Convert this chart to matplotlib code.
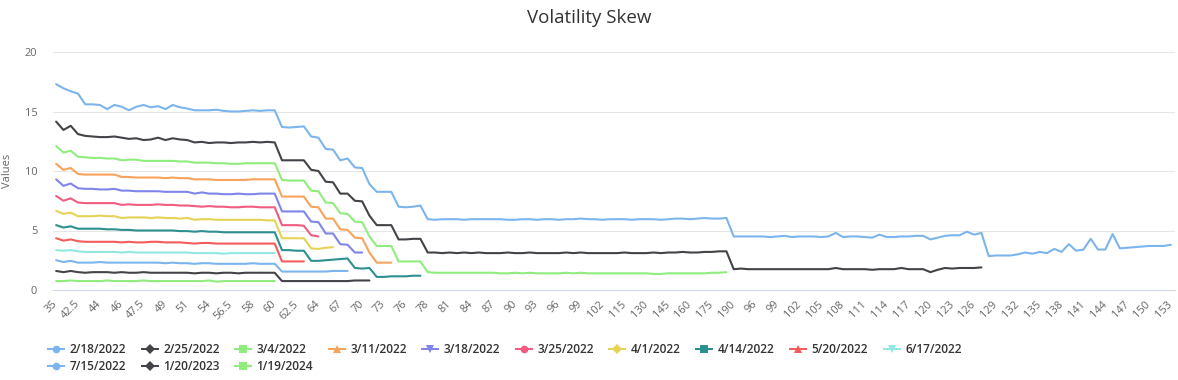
import matplotlib
matplotlib.use("Agg")
import matplotlib.pyplot as plt
from matplotlib.lines import Line2D

plt.rcParams['font.family'] = ['Open Sans', 'DejaVu Sans']

categories = ['35', '40', '41', '42.5', '43', '43.5', '44', '45', '45.5', '46', '46.5', '47', '47.5', '48', '48.5',
              '49', '50', '50.5', '51', '52', '52.5', '54', '55', '55.5', '56.5', '57', '57.5', '58', '59', '59.5',
              '60', '61', '62', '62.5', '63', '63.5', '64', '65', '66', '67', '68', '69', '70', '71', '72', '73',
              '74', '75', '76', '77', '77.5', '78', '79', '80', '81', '82', '83', '84', '85', '86', '87', '88', '89',
              '90', '91', '92', '93', '94', '95', '96', '97', '98', '99', '100', '101', '102', '105', '110', '115',
              '120', '125', '130', '135', '140', '145', '150', '155', '160', '165', '170', '175', '180', '185', '190',
              '94', '95', '96', '97', '98', '99', '100', '101', '102', '103', '104', '105', '106', '107', '108', '109',
              '110', '111', '112', '113', '114', '115', '116', '117', '118', '119', '120', '121', '122', '123', '124',
              '125', '126', '127', '128', '129', '130', '131', '132', '133', '134', '135', '136', '137', '138', '139',
              '140', '141', '142', '143', '144', '145', '146', '147', '148', '149', '150', '151', '152', '153']

series_names = ['2/18/2022', '2/25/2022', '3/4/2022', '3/11/2022', '3/18/2022', '3/25/2022', '4/1/2022',
                '4/14/2022', '5/20/2022', '6/17/2022', '7/15/2022', '1/20/2023', '1/19/2024']

s_2022_02_18 = [17.3, 16.95, 16.7, 16.5, 15.6, 15.6, 15.55, 15.2, 15.55, 15.4, 15.1, 15.4, 15.55, 15.35, 15.45,
                15.2, 15.55, 15.35, 15.25, 15.1, 15.1, 15.1, 15.15, 15.05, 15.0, 15.0, 15.05, 15.1, 15.05, 15.1, 15.1,
                13.7, 13.65, 13.7, 13.75, 12.9, 12.8, 11.85, 11.8, 10.9, 11.05, 10.3, 10.25, 8.9, 8.25, 8.25, 8.25,
                7.0, 6.95, 7.0, 7.1,
                5.95, 5.9, 5.95, 5.95, 5.95, 5.9, 5.95, 5.95, 5.95, 5.95, 5.95, 5.9, 5.9, 5.95, 5.95, 5.9, 5.95, 5.95,
                5.9, 5.95, 5.95, 6.0, 5.95, 5.95, 5.9, 5.95, 5.95, 5.95, 5.9, 5.95, 5.95, 5.95, 5.9, 5.95, 6.0, 6.0,
                5.95, 6.0, 6.05, 6.0, 6.0, 6.05,
                4.5, 4.5, 4.5, 4.5, 4.5, 4.45, 4.5, 4.55, 4.45, 4.5, 4.5, 4.5, 4.45, 4.5, 4.8, 4.45, 4.5, 4.5, 4.45,
                4.4, 4.65, 4.45, 4.45, 4.5, 4.5, 4.55, 4.55, 4.25, 4.4, 4.55, 4.6, 4.6, 4.9, 4.65, 4.8,
                2.85, 2.9, 2.9, 2.9, 3.0, 3.15, 3.05, 3.2, 3.1, 3.45, 3.2, 3.85, 3.3, 3.4, 4.3, 3.4, 3.4, 4.7, 3.5,
                3.55, 3.6, 3.65, 3.7, 3.7, 3.7, 3.8]

s_2022_02_25 = [14.15, 13.45, 13.8, 13.1, 12.95, 12.9, 12.85, 12.85, 12.9, 12.8, 12.7, 12.75, 12.6, 12.65, 12.8,
                12.6, 12.75, 12.65, 12.6, 12.4, 12.45, 12.35, 12.4, 12.4, 12.35, 12.4, 12.4, 12.45, 12.4, 12.45, 12.4,
                10.9, 10.9, 10.9, 10.9, 10.1, 10.0, 9.1, 9.05, 8.1, 8.1, 7.5, 7.45, 6.25, 5.45, 5.45, 5.45, 4.25,
                4.25, 4.3, 4.3,
                3.15, 3.15, 3.1, 3.15, 3.1, 3.15, 3.1, 3.15, 3.1, 3.1, 3.1, 3.15, 3.1, 3.1, 3.15, 3.1, 3.1, 3.1, 3.1,
                3.15, 3.1, 3.15, 3.1, 3.1, 3.1, 3.1, 3.1, 3.15, 3.1, 3.1, 3.1, 3.15, 3.1, 3.15, 3.15, 3.2, 3.15, 3.15,
                3.2, 3.2, 3.25, 3.25,
                1.75, 1.8, 1.75, 1.75, 1.75, 1.75, 1.75, 1.75, 1.75, 1.75, 1.75, 1.75, 1.75, 1.75, 1.85, 1.75, 1.75,
                1.75, 1.75, 1.7, 1.75, 1.75, 1.75, 1.85, 1.75, 1.75, 1.75, 1.5, 1.7, 1.85, 1.8, 1.85, 1.85, 1.85, 1.9]

s_2022_03_04 = [12.1, 11.55, 11.7, 11.2, 11.15, 11.1, 11.1, 11.05, 11.05, 10.9, 10.95, 10.95, 10.85, 10.85, 10.85,
                10.85, 10.85, 10.8, 10.8, 10.7, 10.7, 10.7, 10.65, 10.65, 10.6, 10.6, 10.65, 10.65, 10.65, 10.65,
                10.65,
                9.25, 9.2, 9.2, 9.2, 8.35, 8.3, 7.35, 7.3, 6.45, 6.4, 5.75, 5.7, 4.5, 3.7, 3.7, 3.7, 2.4, 2.4, 2.4, 2.4,
                1.5, 1.45, 1.45, 1.45, 1.45, 1.45, 1.45, 1.45, 1.45, 1.45, 1.4, 1.4, 1.45, 1.4, 1.45, 1.4, 1.4, 1.4,
                1.4, 1.45, 1.4, 1.45, 1.4, 1.4, 1.4, 1.4, 1.4, 1.4, 1.4, 1.4, 1.4, 1.35, 1.35, 1.4, 1.4, 1.4, 1.4,
                1.4, 1.4, 1.45, 1.45, 1.5]

s_2022_03_11 = [10.6, 10.1, 10.25, 9.75, 9.7, 9.7, 9.7, 9.7, 9.7, 9.5, 9.5, 9.45, 9.45, 9.45, 9.45, 9.4, 9.45, 9.4,
                9.4, 9.3, 9.3, 9.3, 9.25, 9.25, 9.25, 9.25, 9.25, 9.3, 9.3, 9.3, 9.3,
                7.85, 7.85, 7.85, 7.85, 7.0, 6.95, 6.0, 6.0, 5.1, 5.05, 4.4, 4.35, 3.15, 2.3, 2.3, 2.3]

s_2022_03_18 = [9.3, 8.75, 8.95, 8.55, 8.5, 8.5, 8.45, 8.45, 8.5, 8.35, 8.35, 8.3, 8.3, 8.3, 8.3, 8.25, 8.25, 8.25,
                8.25, 8.1, 8.2, 8.1, 8.1, 8.05, 8.05, 8.1, 8.05, 8.05, 8.1, 8.1, 8.1,
                6.6, 6.6, 6.6, 6.6, 5.75, 5.7, 4.75, 4.75, 3.85, 3.8, 3.15, 3.15]

s_2022_03_25 = [7.9, 7.5, 7.7, 7.35, 7.3, 7.3, 7.3, 7.3, 7.3, 7.15, 7.2, 7.15, 7.15, 7.15, 7.2, 7.15, 7.15, 7.1, 7.1,
                7.05, 7.0, 7.05, 7.0, 7.0, 6.95, 6.95, 7.0, 7.0, 6.95, 6.95, 6.95,
                5.45, 5.45, 5.45, 5.4, 4.6, 4.5]

s_2022_04_01 = [6.65, 6.4, 6.5, 6.2, 6.2, 6.2, 6.25, 6.2, 6.2, 6.05, 6.1, 6.1, 6.1, 6.05, 6.1, 6.05, 6.05, 6.0, 6.05,
                5.9, 5.95, 5.95, 5.9, 5.9, 5.9, 5.9, 5.9, 5.9, 5.9, 5.85, 5.85,
                4.35, 4.35, 4.35, 4.35, 3.5, 3.45, 3.55, 3.6]

s_2022_04_14 = [5.45, 5.25, 5.35, 5.15, 5.15, 5.15, 5.15, 5.1, 5.1, 5.05, 5.05, 5.0, 5.0, 5.0, 5.0, 5.0, 5.0, 4.95,
                4.95, 4.9, 4.95, 4.9, 4.9, 4.85, 4.85, 4.85, 4.85, 4.85, 4.85, 4.85, 4.85,
                3.35, 3.35, 3.3, 3.3, 2.45, 2.45, 2.5, 2.55, 2.6, 2.65, 1.85, 1.8, 1.85, 1.1, 1.1, 1.15, 1.15, 1.15,
                1.2, 1.2]

s_2022_05_20 = [4.35, 4.15, 4.25, 4.1, 4.05, 4.05, 4.05, 4.05, 4.05, 4.0, 4.05, 4.0, 4.0, 4.05, 4.05, 4.0, 4.0, 4.0,
                3.95, 3.9, 3.95, 3.95, 3.9, 3.9, 3.9, 3.9, 3.9, 3.9, 3.9, 3.9, 3.9,
                2.4, 2.4, 2.4, 2.4]

s_2022_06_17 = [3.35, 3.3, 3.35, 3.25, 3.2, 3.2, 3.2, 3.2, 3.2, 3.15, 3.2, 3.15, 3.15, 3.15, 3.15, 3.15, 3.15, 3.15,
                3.15, 3.1, 3.1, 3.1, 3.1, 3.05, 3.1, 3.1, 3.1, 3.1, 3.1, 3.1, 3.1]

s_2022_07_15 = [2.5, 2.35, 2.45, 2.3, 2.3, 2.3, 2.35, 2.3, 2.3, 2.3, 2.3, 2.3, 2.3, 2.3, 2.3, 2.25, 2.3, 2.25, 2.25,
                2.2, 2.25, 2.25, 2.2, 2.2, 2.2, 2.2, 2.2, 2.25, 2.2, 2.2, 2.2,
                1.55, 1.55, 1.55, 1.55, 1.55, 1.55, 1.55, 1.6, 1.6, 1.6]

s_2023_01_20 = [1.6, 1.5, 1.6, 1.5, 1.45, 1.5, 1.5, 1.5, 1.45, 1.5, 1.45, 1.45, 1.5, 1.45, 1.45, 1.45, 1.45, 1.45,
                1.45, 1.4, 1.45, 1.45, 1.4, 1.45, 1.45, 1.4, 1.45, 1.45, 1.45, 1.45, 1.45,
                0.75, 0.75, 0.75, 0.75, 0.75, 0.75, 0.75, 0.75, 0.75, 0.75, 0.8, 0.8, 0.8]

s_2024_01_19 = [0.75, 0.75, 0.8, 0.75, 0.75, 0.75, 0.75, 0.8, 0.75, 0.75, 0.75, 0.75, 0.8, 0.75, 0.75, 0.75, 0.75,
                0.75, 0.75, 0.75, 0.75, 0.8, 0.7, 0.75, 0.75, 0.75, 0.75, 0.75, 0.75, 0.75, 0.75]

series_values = [s_2022_02_18, s_2022_02_25, s_2022_03_04, s_2022_03_11, s_2022_03_18, s_2022_03_25,
                 s_2022_04_01, s_2022_04_14, s_2022_05_20, s_2022_06_17, s_2022_07_15, s_2023_01_20, s_2024_01_19]

colors = ['#7cb5ec', '#434348', '#90ed7d', '#f7a35c', '#8085e9', '#f15c80', '#e4d354', '#2b908f', '#f45b5b',
          '#91e8e1', '#7cb5ec', '#434348', '#90ed7d']
markers = ['o', 'D', 's', '^', 'v', 'o', 'D', 's', '^', 'v', 'o', 'D', 's']

W, H = 1178, 380
fig = plt.figure(figsize=(W / 100, H / 100), dpi=100)
ax = fig.add_axes([52.5 / W, (H - 290) / H, (1174.5 - 52.5) / W, (290 - 52) / H])

for name, vals, c in zip(series_names, series_values, colors):
    ax.plot(range(len(vals)), vals, color=c, lw=1.5, solid_joinstyle='round', solid_capstyle='round')

ax.set_xlim(-0.5, len(categories) - 0.5)
ax.set_ylim(0, 20)
ax.set_yticks([0, 5, 10, 15, 20])
ax.yaxis.grid(True, color='#e6e6e6', lw=0.75)
ax.set_axisbelow(True)
for s in ['top', 'right', 'left']:
    ax.spines[s].set_visible(False)
ax.spines['bottom'].set_color('#ccd6eb')
ax.spines['bottom'].set_linewidth(0.75)
ax.tick_params(axis='y', length=0, pad=11, labelsize=7.9, labelcolor='#666666')

tick_pos = list(range(0, len(categories), 3))
ax.set_xticks(tick_pos)
ax.set_xticklabels([categories[i] for i in tick_pos], rotation=45, ha='right', va='center',
                   rotation_mode='anchor', fontsize=7.9, color='#666666')
ax.tick_params(axis='x', length=0, pad=9)

fig.text(0.5, 1 - 18 / H, 'Volatility Skew', ha='center', va='center', fontsize=13.5, color='#333333')
fig.text(8 / W, 1 - 171 / H, 'Values', ha='center', va='center', rotation=90, fontsize=8, color='#666666')

handles = [Line2D([0], [0], color=c, lw=1.45, marker=m, markersize=5.5, markeredgewidth=0)
           for c, m in zip(colors, markers)]
# legend is filled column by column; order items so that rows read left to right
order = [0, 10, 1, 11, 2, 12, 3, 4, 5, 6, 7, 8, 9]
leg = fig.legend([handles[i] for i in order], [series_names[i] for i in order], ncol=10, loc='upper left',
                 bbox_to_anchor=(48 / W, 1 - 343 / H),
                 frameon=False, fontsize=8.6, handlelength=1.35, handletextpad=0.45, columnspacing=1.3,
                 labelspacing=0.35, borderaxespad=0, borderpad=0)
for t in leg.get_texts():
    t.set_color('#333333')
    t.set_fontweight('semibold')

fig.savefig('out.png', dpi=100)
